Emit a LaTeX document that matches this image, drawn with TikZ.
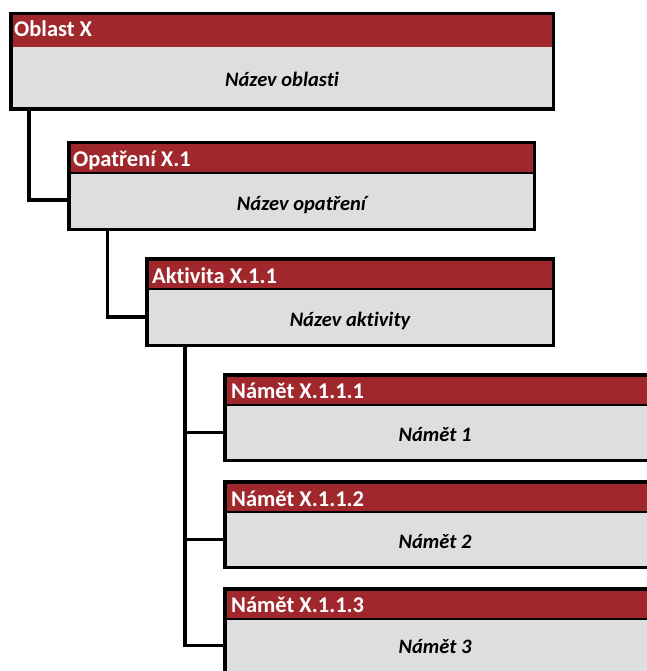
\documentclass[tikz,border=0pt]{standalone}
\usepackage{fontspec}
\setmainfont{Carlito}[Ligatures={NoCommon}]
\definecolor{headred}{HTML}{A0282D}
\definecolor{bodygray}{HTML}{DEDEDE}
\begin{document}
\begin{tikzpicture}[x=1pt,y=-1pt,
  frame/.style={rectangle, draw=black, line width=3.5pt, fill=bodygray,
    inner sep=0pt, outer sep=0pt, anchor=north west,
    path picture={\fill[headred] (path picture bounding box.north west) rectangle ([yshift=-#1]path picture bounding box.north east);}},
  sepline/.style={line width=2.5pt},
  conn/.style={line width=3.5pt, line join=miter},
  headtxt/.style={anchor=base west, inner sep=0pt, text=white, font=\fontsize{22.5}{26}\selectfont\bfseries},
  bodytxt/.style={anchor=base, inner sep=0pt, text=black, font=\fontsize{20.5}{24}\selectfont\bfseries\itshape}
]
\useasboundingbox (0,0) rectangle (646,671);

% boxes
\node[frame=33.5pt, minimum width=542.5pt, minimum height=95.5pt] (b1) at (10.75,13.75) {};
\node[frame=30.25pt, minimum width=465.5pt, minimum height=86.5pt] (b2) at (68.75,142.75) {};
\node[frame=30.25pt, minimum width=406.5pt, minimum height=86.5pt] (b3) at (146.75,258.75) {};
\node[frame=30pt, minimum width=440pt, minimum height=85.5pt] (b4) at (224.75,374.75) {};
\node[frame=30pt, minimum width=440pt, minimum height=85.5pt] (b5) at (224.75,481.75) {};
\node[frame=30pt, minimum width=440pt, minimum height=85.5pt] (b6) at (224.75,588.75) {};

% separators
\draw[sepline] ([yshift=-30.25pt]b2.north west) -- ([yshift=-30.25pt]b2.north east);
\draw[sepline] ([yshift=-30.25pt]b3.north west) -- ([yshift=-30.25pt]b3.north east);
\draw[sepline] ([yshift=-30pt]b4.north west) -- ([yshift=-30pt]b4.north east);
\draw[sepline] ([yshift=-30pt]b5.north west) -- ([yshift=-30pt]b5.north east);
\draw[sepline] ([yshift=-30pt]b6.north west) -- ([yshift=-30pt]b6.north east);

% connectors
\draw[conn] ([xshift=18.25pt]b1.south west) |- ([yshift=-14pt]b2.west);
\draw[conn] ([xshift=38.75pt]b2.south west) |- ([yshift=-15pt]b3.west);
\coordinate (tr) at ([xshift=38.25pt]b3.south west);
\coordinate (j4) at ([yshift=-15pt]b4.west);
\coordinate (j5) at ([yshift=-15pt]b5.west);
\coordinate (j6) at ([yshift=-14pt]b6.west);
\draw[conn] (tr) |- (j6);
\draw[conn] (tr |- j4) -- (j4);
\draw[conn] (tr |- j5) -- (j5);

% texts
\node[headtxt] (h1) at (14,37) {Oblast X};
\node[bodytxt] (t1) at (282,87) {Název oblasti};
\node[headtxt] (h2) at (73,167) {Opatření X.1};
\node[bodytxt] (t2) at (301.5,210) {Název opatření};
\node[headtxt] (h3) at (152,283) {Aktivita X.1.1};
\node[bodytxt] (t3) at (350,326) {Název aktivity};
\node[headtxt] (h4) at (231,398) {Námět X.1.1.1};
\node[bodytxt] (t4) at (435,441) {Námět 1};
\node[headtxt] (h5) at (231,506) {Námět X.1.1.2};
\node[bodytxt] (t5) at (435,548) {Námět 2};
\node[headtxt] (h6) at (231,612) {Námět X.1.1.3};
\node[bodytxt] (t6) at (435,653) {Námět 3};
\end{tikzpicture}
\end{document}
